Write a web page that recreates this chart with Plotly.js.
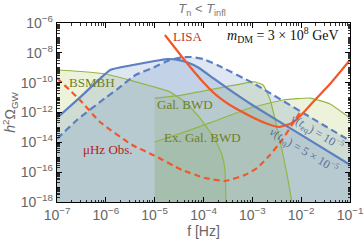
<!DOCTYPE html>
<html><head><meta charset="utf-8">
<script src="https://cdn.plot.ly/plotly-3.0.1.min.js"></script>
<style>html,body{margin:0;padding:0;background:#fff}</style>
</head><body><div id="chart" style="width:364px;height:245px"></div>
<script>
// ---- data (frequency in Hz, h^2 Omega_GW) ----
const bsmbhF   = [1e-7, 3.16e-7, 1e-6, 1e-5, 2.04e-5, 4.17e-5, 8.51e-5, 1.74e-4, 2.40e-4, 2.75e-4, 2.88e-4];
const bsmbhOm  = [7.08e-10, 5.62e-10, 3.80e-10, 5.01e-11, 2.40e-11, 5.13e-12, 4.27e-13, 1.45e-14, 1.41e-15, 1.41e-16, 1e-18];

const galF     = [1e-5, 3.63e-5, 3.47e-4, 1.12e-3, 1.66e-3, 2.29e-3, 2.88e-3, 4.27e-3, 5.37e-3, 6.46e-3];
const galOm    = [9.33e-12, 1.48e-11, 6.03e-11, 1.12e-10, 6.92e-11, 7.94e-12, 4.27e-13, 1.41e-15, 3.16e-17, 1e-18];

const exGalF   = [1e-5, 3.63e-5, 1.35e-4, 8.91e-4, 4.27e-3, 1.51e-2, 3.89e-2, 0.1];
const exGalOm  = [1.05e-14, 4.27e-14, 2.0e-13, 2.0e-12, 6.92e-12, 9.33e-12, 3.72e-12, 4.27e-13];

const v5F      = [1e-7, 3.16e-7, 1.23e-6, 3.16e-6, 1e-5, 1.78e-5, 2.82e-5, 4.47e-5, 7.94e-5, 1.58e-4, 3.16e-4, 1e-3, 1e-2, 0.1];
const v5Om     = [4.27e-13, 1.26e-11, 7.08e-10, 1.41e-9, 2.82e-9, 3.80e-9, 3.55e-9, 2.40e-9, 1e-9, 2.0e-10, 3.98e-11, 3.16e-12, 3.16e-14, 3.16e-16];

const v1F      = [1e-7, 2.57e-7, 1e-6, 1.78e-6, 3.98e-6, 1e-5, 2.0e-5, 3.55e-5, 5.62e-5, 1e-4, 2.0e-4, 1e-3, 1e-2, 0.1];
const v1Om     = [1.70e-14, 3.16e-13, 1e-11, 3.98e-11, 3.16e-10, 1.12e-9, 3.16e-9, 5.01e-9, 5.25e-9, 3.80e-9, 1.41e-9, 1.0e-10, 1.12e-12, 1.26e-14];

const lisaF    = [1.62e-5, 4.57e-5, 1.07e-4, 1.91e-4, 3.47e-4, 8.91e-4, 1.82e-3, 3.55e-3, 6.46e-3, 1.05e-2, 1.91e-2, 3.89e-2, 0.1];
const lisaOm   = [1.58e-7, 2.09e-9, 8.13e-11, 1.29e-11, 3.16e-12, 5.89e-13, 2.0e-13, 1.07e-13, 2.0e-13, 7.94e-13, 6.92e-12, 8.13e-11, 3.31e-9];

const muHzF    = [1e-7, 2.95e-7, 7.59e-7, 3.47e-6, 9.33e-6, 3.63e-5, 1.07e-4, 2.75e-4, 7.08e-4, 1.26e-3, 2.29e-3, 4.07e-3, 6.46e-3, 9.55e-3];
const muHzOm   = [2.04e-10, 6.92e-12, 2.29e-13, 6.61e-15, 1.41e-15, 1.41e-16, 4.07e-17, 2.57e-17, 6.46e-17, 1.91e-16, 1.41e-15, 1.45e-14, 1.45e-13, 1.07e-12];

const xTickVals = [1e-7, 1e-6, 1e-5, 1e-4, 1e-3, 1e-2, 1e-1];
const xTickText = ['10<sup>−7</sup>', '10<sup>−6</sup>', '10<sup>−5</sup>', '10<sup>−4</sup>', '10<sup>−3</sup>', '10<sup>−2</sup>', '10<sup>−1</sup>'];
const yTickVals = [1e-18, 1e-16, 1e-14, 1e-12, 1e-10, 1e-8, 1e-6];
const yTickText = ['10<sup>−18</sup>', '10<sup>−16</sup>', '10<sup>−14</sup>', '10<sup>−12</sup>', '10<sup>−10</sup>', '10<sup>−8</sup>', '10<sup>−6</sup>'];

// ---- styles ----
const Y_BOTTOM = 1e-18;
const greenFill = 'rgba(165,195,70,0.20)';
const blueFill  = 'rgba(90,128,192,0.20)';
const greenLine = '#93b545';
const blueLine  = '#5b7fc0';
const redLine   = '#f0582a';

function fillTrace(f, om, color) {
  return {x: f.concat([f[f.length-1], f[0]]), y: om.concat([Y_BOTTOM, Y_BOTTOM]),
    mode: 'lines', fill: 'toself', fillcolor: color, line: {width: 0}, hoverinfo: 'skip', showlegend: false};
}
function lineTrace(f, om, color, width, dash) {
  return {x: f, y: om, mode: 'lines', line: {color: color, width: width, dash: dash || 'solid', shape: 'spline', smoothing: 0.4},
    hoverinfo: 'skip', showlegend: false};
}

const traces = [
  fillTrace(bsmbhF, bsmbhOm, greenFill),
  fillTrace(galF, galOm, greenFill),
  fillTrace(exGalF, exGalOm, greenFill),
  fillTrace(v1F, v1Om, blueFill),
  fillTrace(v5F, v5Om, blueFill),
  lineTrace(bsmbhF, bsmbhOm, greenLine, 1.2),
  lineTrace(galF, galOm, greenLine, 1.2),
  lineTrace(exGalF, exGalOm, greenLine, 1.2),
  lineTrace(v1F, v1Om, blueLine, 2.2, '7px,4px'),
  lineTrace(v5F, v5Om, blueLine, 2.2),
  lineTrace(muHzF, muHzOm, redLine, 2.2, '6px,4px'),
  lineTrace(lisaF, lisaOm, redLine, 2.2)
];

const serif = 'Liberation Serif, DejaVu Serif, serif';
const sans = 'Liberation Sans, Arial, sans-serif';
function ann(text, x, y, color, size, angle) {
  return {text: text, x: x, y: y, xref: 'paper', yref: 'paper', showarrow: false,
    font: {family: serif, size: size, color: color}, textangle: angle || 0, xanchor: 'center', yanchor: 'middle'};
}

const axisCommon = {
  type: 'log', showline: true, linecolor: '#000', linewidth: 1.2, mirror: 'allticks',
  ticks: 'inside', ticklen: 5, tickwidth: 1, tickcolor: '#000', showgrid: false, zeroline: false,
  tickmode: 'array', tickfont: {family: sans, size: 14, color: '#666'},
  minor: {ticks: 'inside', ticklen: 2.5, tickwidth: 0.8, tickcolor: '#000', dtick: 'D1', showgrid: false}
};

const layout = {
  width: 364, height: 245,
  margin: {l: 57, r: 14, t: 23, b: 43},
  paper_bgcolor: '#fff', plot_bgcolor: '#fff',
  showlegend: false,
  title: {text: '<i>T</i><sub>n</sub> &lt; <i>T</i><sub>infl</sub>', x: 0.555, xref: 'container', y: 0.965, yanchor: 'middle',
    font: {family: sans, size: 13, color: '#777'}},
  xaxis: Object.assign({}, axisCommon, {
    range: [-7, -1], tickvals: xTickVals, ticktext: xTickText,
    title: {text: 'f [Hz]', font: {family: sans, size: 14, color: '#666'}, standoff: 4}
  }),
  yaxis: Object.assign({}, axisCommon, {
    range: [-18, -6], tickvals: yTickVals, ticktext: yTickText,
    title: {text: '<i>h</i><sup>2</sup>Ω<sub>GW</sub>', font: {family: sans, size: 14, color: '#666'}, standoff: 2}
  }),
  annotations: [
    ann('LISA', 0.447, 0.922, '#c0392b', 13),
    ann('<i>m</i><sub>DM</sub> = 3 × 10<sup>8</sup> GeV', 0.771, 0.933, '#111', 14),
    ann('BSMBH', 0.12, 0.670, '#6e7f1f', 13),
    ann('Gal. BWD', 0.437, 0.547, '#6e7f1f', 13),
    ann('Ex. Gal. BWD', 0.498, 0.363, '#6e7f1f', 13),
    ann('μHz Obs.', 0.174, 0.291, '#b22222', 13),
    ann('<i>v</i>(<i>t</i><sub>eq</sub>) = 10<sup>−5</sup>', 0.886, 0.388, '#5a6f9a', 12, 31),
    ann('<i>v</i>(<i>t</i><sub>eq</sub>) = 5 × 10<sup>−5</sup>', 0.840, 0.286, '#5a6f9a', 12, 31)
  ]
};

Plotly.newPlot('chart', traces, layout, {displayModeBar: false, staticPlot: true});
</script></body></html>
